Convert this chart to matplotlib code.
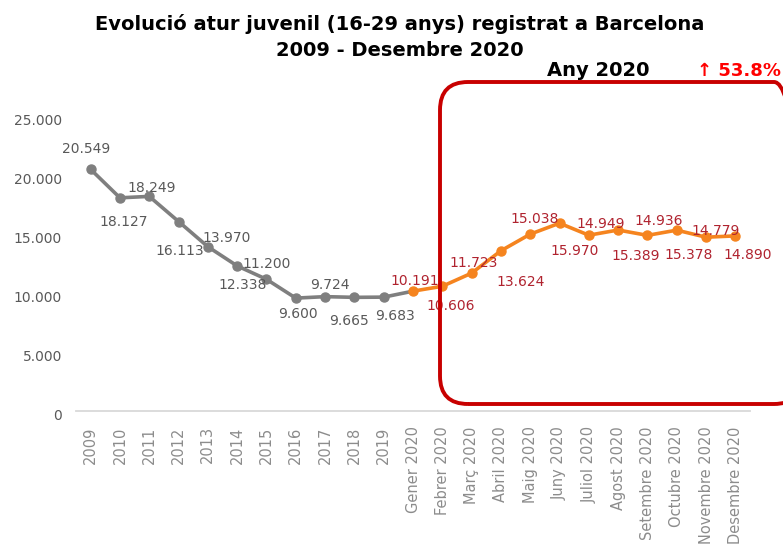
import matplotlib
matplotlib.use("Agg")
import matplotlib.pyplot as plt
from matplotlib.patches import FancyBboxPatch
from matplotlib.transforms import IdentityTransform, ScaledTranslation

# ---- data ----
categories = ["2009", "2010", "2011", "2012", "2013", "2014", "2015", "2016",
              "2017", "2018", "2019", "Gener 2020", "Febrer 2020", "Març 2020",
              "Abril 2020", "Maig 2020", "Juny 2020", "Juliol 2020", "Agost 2020",
              "Setembre 2020", "Octubre 2020", "Novembre 2020", "Desembre 2020"]
years_values = [20549, 18127, 18249, 16113, 13970, 12338, 11200, 9600, 9724, 9665, 9683]
months_values = [10191, 10606, 11723, 13624, 15038, 15970, 14949, 15389, 14936,
                 15378, 14779, 14890]
yticks = [0, 5000, 10000, 15000, 20000, 25000]
title_line1 = "Evolució atur juvenil (16-29 anys) registrat a Barcelona"
title_line2 = "2009 - Desembre 2020"
box_title = "Any 2020"
box_change = "↑ 53.8%"

# label offsets (pixels) relative to each point: style, not data
year_offsets = [(-5, 20), (4, -24), (2, 8), (1, -29), (19, 9), (5, -19), (0, 15),
                (2, -16), (5, 12), (-5, -24), (11, -19)]
month_offsets = [(2, 10), (8, -20), (2, 10), (20, -31), (4, 15), (15, -28), (12, 11),
                 (18, -26), (11, 14), (12, -25), (10, 6), (12, -19)]

GRAY = "#7F7F7F"
ORANGE = "#F5841F"
LABEL_GRAY = "#595959"
LABEL_RED = "#B0232F"

def fmt(v):
    return f"{v:,}".replace(",", ".")

W, H = 783, 551
fig = plt.figure(figsize=(W / 100, H / 100), dpi=100)
fig.patch.set_facecolor("white")
ax = fig.add_axes([76 / W, 1 - 411 / H, (750 - 76) / W, (411 - 117) / H])

n_years = len(years_values)
x_years = list(range(n_years))
x_months = list(range(n_years, n_years + len(months_values)))

# connector from last year to first month (gray)
ax.plot([x_years[-1], x_months[0]], [years_values[-1], months_values[0]],
        color=GRAY, lw=2.6, solid_capstyle="round", zorder=2)
ax.plot(x_years, years_values, color=GRAY, lw=2.6, marker="o", ms=6.5,
        solid_joinstyle="round", zorder=3)
ax.plot(x_months, months_values, color=ORANGE, lw=2.6, marker="o", ms=6.5,
        solid_joinstyle="round", zorder=3)

for x, v, (dx, dy) in zip(x_years, years_values, year_offsets):
    ax.annotate(fmt(v), (x, v), xytext=(dx, dy), textcoords="offset pixels",
                ha="center", va="center", fontsize=10, color=LABEL_GRAY, zorder=4)
for x, v, (dx, dy) in zip(x_months, months_values, month_offsets):
    ax.annotate(fmt(v), (x, v), xytext=(dx, dy), textcoords="offset pixels",
                ha="center", va="center", fontsize=10, color=LABEL_RED, zorder=4)

ax.set_xlim(-0.5, len(categories) - 0.5)
ax.set_ylim(0, 25000)
ax.set_yticks(yticks)
ax.set_yticklabels([fmt(t) for t in yticks], fontsize=10, color=LABEL_GRAY)
ax.set_xticks(range(len(categories)))
ax.set_xticklabels(categories, rotation=90, fontsize=10.5, color="#8C8C8C")
ax.tick_params(axis="both", length=0)
ax.tick_params(axis="y", pad=10)
ax.tick_params(axis="x", pad=11)
for lab in ax.get_yticklabels():
    lab.set_transform(lab.get_transform() + ScaledTranslation(0, -3 / 100, fig.dpi_scale_trans))
for s in ["top", "right", "left"]:
    ax.spines[s].set_visible(False)
ax.spines["bottom"].set_color("#D9D9D9")
ax.spines["bottom"].set_linewidth(1.3)

# titles
fig.text(0.51, 1 - 24 / H, title_line1, ha="center", va="center", fontsize=14,
         fontweight="bold", color="black")
fig.text(0.51, 1 - 51 / H, title_line2, ha="center", va="center", fontsize=14,
         fontweight="bold", color="black")
fig.text(598 / W, 1 - 71 / H, box_title, ha="center", va="center", fontsize=14,
         fontweight="bold", color="black")
fig.text(697 / W, 1 - 71 / H, box_change, ha="left", va="center", fontsize=13,
         fontweight="bold", color="#FF0000")

# red rounded box (pixel coordinates)
box = FancyBboxPatch((440, H - 404), 362, 322,
                     boxstyle="round,pad=0,rounding_size=28",
                     transform=IdentityTransform(), fill=False,
                     edgecolor="#C80000", linewidth=2.8, zorder=5)
fig.add_artist(box)

fig.savefig("out.png", dpi=100, facecolor="white")
